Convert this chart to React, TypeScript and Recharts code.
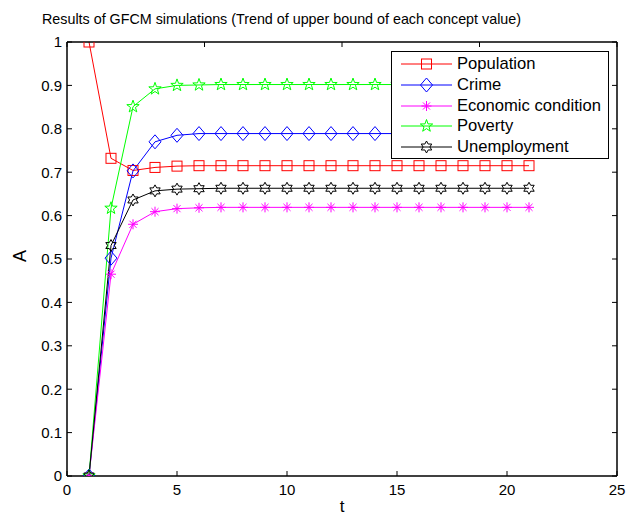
import React from 'react';
import { LineChart, Line, XAxis, YAxis, Legend } from 'recharts';

const tValues = [1, 2, 3, 4, 5, 6, 7, 8, 9, 10, 11, 12, 13, 14, 15, 16, 17, 18, 19, 20, 21];
const population = [1.0, 0.732, 0.704, 0.711, 0.714, 0.715, 0.715, 0.715, 0.715, 0.715, 0.715, 0.715, 0.715, 0.715, 0.715, 0.715, 0.715, 0.715, 0.715, 0.715, 0.715];
const crime = [0, 0.502, 0.703, 0.770, 0.785, 0.789, 0.789, 0.789, 0.789, 0.789, 0.789, 0.789, 0.789, 0.789, 0.789, 0.789, 0.789, 0.789, 0.789, 0.789, 0.789];
const economic = [0, 0.465, 0.580, 0.609, 0.616, 0.618, 0.619, 0.619, 0.619, 0.619, 0.619, 0.619, 0.619, 0.619, 0.619, 0.619, 0.619, 0.619, 0.619, 0.619, 0.619];
const poverty = [0, 0.617, 0.851, 0.892, 0.900, 0.901, 0.902, 0.902, 0.902, 0.902, 0.902, 0.902, 0.902, 0.902, 0.902, 0.902, 0.902, 0.902, 0.902, 0.902, 0.902];
const unemployment = [0, 0.531, 0.636, 0.657, 0.661, 0.662, 0.663, 0.663, 0.663, 0.663, 0.663, 0.663, 0.663, 0.663, 0.663, 0.663, 0.663, 0.663, 0.663, 0.663, 0.663];

const xTicks = [0, 5, 10, 15, 20, 25];
const yTicks = [0, 0.1, 0.2, 0.3, 0.4, 0.5, 0.6, 0.7, 0.8, 0.9, 1];

const titleText = 'Results of GFCM simulations (Trend of upper bound of each concept value)';
const xLabel = 't';
const yLabel = 'A';

const FONT = '"Liberation Sans", Arial, Helvetica, sans-serif';

const data = tValues.map((t, i) => ({
  t,
  population: population[i],
  crime: crime[i],
  economic: economic[i],
  poverty: poverty[i],
  unemployment: unemployment[i],
}));

type MarkerKind = 'square' | 'diamond' | 'asterisk' | 'pentagram' | 'hexagram';

const series: { key: string; name: string; color: string; marker: MarkerKind }[] = [
  { key: 'population', name: 'Population', color: '#ff0000', marker: 'square' },
  { key: 'crime', name: 'Crime', color: '#0000ff', marker: 'diamond' },
  { key: 'economic', name: 'Economic condition', color: '#ff00ff', marker: 'asterisk' },
  { key: 'poverty', name: 'Poverty', color: '#00ff00', marker: 'pentagram' },
  { key: 'unemployment', name: 'Unemployment', color: '#000000', marker: 'hexagram' },
];

function starPoints(cx: number, cy: number, n: number, R: number, r: number) {
  const pts: string[] = [];
  for (let i = 0; i < 2 * n; i++) {
    const a = -Math.PI / 2 + (i * Math.PI) / n;
    const rad = i % 2 === 0 ? R : r;
    pts.push(`${cx + rad * Math.cos(a)},${cy + rad * Math.sin(a)}`);
  }
  return pts.join(' ');
}

function drawMarker(kind: MarkerKind, cx: number, cy: number, color: string, key?: any) {
  switch (kind) {
    case 'square':
      return <rect key={key} x={cx - 5} y={cy - 5} width={10} height={10} fill="none" stroke={color} strokeWidth={1} />;
    case 'diamond':
      return (
        <polygon key={key} points={`${cx},${cy - 7} ${cx + 6},${cy} ${cx},${cy + 7} ${cx - 6},${cy}`} fill="none" stroke={color} strokeWidth={1} />
      );
    case 'asterisk': {
      const r = 5;
      const d = r * Math.SQRT1_2;
      return (
        <g key={key} stroke={color} strokeWidth={1}>
          <line x1={cx - r} y1={cy} x2={cx + r} y2={cy} />
          <line x1={cx} y1={cy - r} x2={cx} y2={cy + r} />
          <line x1={cx - d} y1={cy - d} x2={cx + d} y2={cy + d} />
          <line x1={cx - d} y1={cy + d} x2={cx + d} y2={cy - d} />
        </g>
      );
    }
    case 'pentagram':
      return <polygon key={key} points={starPoints(cx, cy, 5, 6.5, 2.6)} fill="none" stroke={color} strokeWidth={1} />;
    case 'hexagram':
    default:
      return <polygon key={key} points={starPoints(cx, cy, 6, 6, 3.4)} fill="none" stroke={color} strokeWidth={1} />;
  }
}

const XBottomTick = (props: any) => {
  const { x, y, payload } = props;
  return (
    <g>
      <line x1={x} x2={x} y1={y} y2={y - 5} stroke="#000" strokeWidth={1} />
      <text x={x} y={y + 19} textAnchor="middle" fontSize={15} fontFamily={FONT} fill="#000">
        {payload.value}
      </text>
    </g>
  );
};

const XTopTick = (props: any) => {
  const { x, y } = props;
  return <line x1={x} x2={x} y1={y} y2={y + 5} stroke="#000" strokeWidth={1} />;
};

const YLeftTick = (props: any) => {
  const { x, y, payload } = props;
  return (
    <g>
      <line x1={x} x2={x + 5} y1={y} y2={y} stroke="#000" strokeWidth={1} />
      <text x={x - 5} y={y} dy="0.36em" textAnchor="end" fontSize={15} fontFamily={FONT} fill="#000">
        {payload.value}
      </text>
    </g>
  );
};

const YRightTick = (props: any) => {
  const { x, y } = props;
  return <line x1={x} x2={x - 5} y1={y} y2={y} stroke="#000" strokeWidth={1} />;
};

const LegendBox = () => (
  <div
    style={{
      position: 'relative',
      width: 218,
      height: 108,
      border: '1.5px solid #000',
      background: '#fff',
      boxSizing: 'border-box',
      fontFamily: FONT,
      fontSize: 16.6,
      color: '#000',
    }}
  >
    {series.map((s, i) => (
      <div key={s.key} style={{ position: 'absolute', left: 0, top: 2 + i * 20.8, height: 20, width: '100%' }}>
        <svg width={64} height={20} style={{ position: 'absolute', left: 0, top: 0 }}>
          <line x1={9} x2={60} y1={10} y2={10} stroke={s.color} strokeWidth={1} />
          {drawMarker(s.marker, 34.5, 10, s.color)}
        </svg>
        <span style={{ position: 'absolute', left: 65, top: 0, lineHeight: '20px', whiteSpace: 'nowrap' }}>{s.name}</span>
      </div>
    ))}
  </div>
);

export default function App() {
  return (
    <div style={{ position: 'absolute', left: 0, top: 0, width: 628, height: 517, background: '#fff' }}>
      <LineChart width={628} height={517} data={data} margin={{ top: 0, right: 0, bottom: 0, left: 0 }}>
        <XAxis
          dataKey="t"
          type="number"
          domain={[0, 25]}
          ticks={xTicks}
          allowDataOverflow
          height={41}
          tickSize={0}
          tickMargin={0}
          tickLine={false}
          tick={<XBottomTick />}
          axisLine={{ stroke: '#000', strokeWidth: 1.5 }}
          interval={0}
          label={{
            content: (p: any) => {
              const vb = p.viewBox || {};
              return (
                <text x={vb.x + vb.width / 2} y={512} textAnchor="middle" fontSize={17} fontFamily={FONT} fill="#000">
                  {xLabel}
                </text>
              );
            },
          }}
        />
        <XAxis
          xAxisId="top"
          orientation="top"
          type="number"
          domain={[0, 25]}
          ticks={xTicks}
          allowDataOverflow
          height={42}
          tickSize={0}
          tickMargin={0}
          tickLine={false}
          tick={<XTopTick />}
          axisLine={{ stroke: '#000', strokeWidth: 1.5 }}
          interval={0}
          label={{
            content: () => (
              <text
                x={42}
                y={24}
                textAnchor="start"
                fontSize={14.2}
                fontFamily={FONT}
                fill="#000"
                textLength={479}
                lengthAdjust="spacingAndGlyphs"
              >
                {titleText}
              </text>
            ),
          }}
        />
        <YAxis
          type="number"
          domain={[0, 1]}
          ticks={yTicks}
          allowDataOverflow
          width={67}
          tickSize={0}
          tickMargin={0}
          tickLine={false}
          tick={<YLeftTick />}
          axisLine={{ stroke: '#000', strokeWidth: 1.5 }}
          interval={0}
          label={{
            content: (p: any) => {
              const vb = p.viewBox || {};
              const cy = vb.y + vb.height / 2 - 3;
              return (
                <text x={26} y={cy} transform={`rotate(-90 26 ${cy})`} textAnchor="middle" fontSize={18} fontFamily={FONT} fill="#000">
                  {yLabel}
                </text>
              );
            },
          }}
        />
        <YAxis
          yAxisId="right"
          orientation="right"
          type="number"
          domain={[0, 1]}
          ticks={yTicks}
          allowDataOverflow
          width={11}
          tickSize={0}
          tickMargin={0}
          tickLine={false}
          tick={<YRightTick />}
          axisLine={{ stroke: '#000', strokeWidth: 1.5 }}
          interval={0}
        />
        {series.map((s) => (
          <Line
            key={s.key}
            dataKey={s.key}
            name={s.name}
            type="linear"
            stroke={s.color}
            strokeWidth={1}
            isAnimationActive={false}
            activeDot={false}
            dot={(p: any) => drawMarker(s.marker, p.cx, p.cy, s.color, `${s.key}-${p.index}`)}
          />
        ))}
        <Legend
          layout="vertical"
          align="center"
          verticalAlign="middle"
          content={() => <LegendBox />}
          wrapperStyle={{ position: 'absolute', left: 391, top: 51, width: 218, height: 108 }}
        />
      </LineChart>
    </div>
  );
}
